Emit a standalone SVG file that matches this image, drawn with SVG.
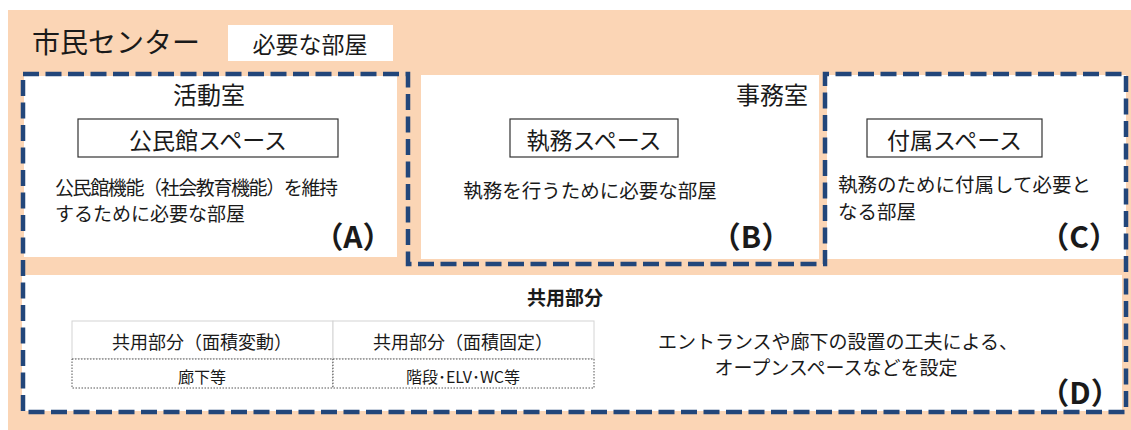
<svg xmlns="http://www.w3.org/2000/svg" width="1131" height="430" viewBox="0 0 1131 430">
<style>
text{font-family:"Noto Sans CJK JP","Noto Sans",sans-serif;fill:#1a1a1a}
.room{fill:#ffffff}
.lbl{stroke:#333;stroke-width:1.2;fill:#ffffff}
.t24{font-size:24px}
.t23{font-size:23px}
.t19{font-size:19px}
.t18{font-size:18px}
.t16{font-size:16px}
.mark{font-size:30px;font-weight:bold;text-anchor:middle}
.mid{text-anchor:middle}
.end{text-anchor:end}
.hdr{fill:#ffffff;stroke:#d4d4d4;stroke-width:1}
.dot{fill:#ffffff;stroke:#555;stroke-width:1;stroke-dasharray:1.5 1.5}
.outline{fill:none;stroke:#22467a;stroke-width:4.5;stroke-dasharray:16 6.5;stroke-linejoin:miter}
</style>
<rect x="8" y="10" width="1123" height="420" fill="#fbd5b5"/>
<g id="title">
<text x="32" y="53" style="font-size:28px">市民センター</text>
<rect x="228" y="25" width="165" height="36" fill="#ffffff"/>
<text class="mid t23" x="310" y="52.5">必要な部屋</text>
</g>
<g id="roomA">
<rect class="room" x="24" y="76" width="373" height="181"/>
<text class="mid t24" x="209" y="104">活動室</text>
<rect class="lbl" x="78" y="119" width="260" height="38"/>
<text class="mid t23" x="208" y="148.5">公民館スペース</text>
<text class="t19" x="55" y="195" style="letter-spacing:-1.4px">公民館機能（社会教育機能）を維持</text>
<text class="t19" x="55" y="221">するために必要な部屋</text>
<text class="mark" x="353" y="248">（A）</text>
</g>
<g id="roomB">
<rect class="room" x="421" y="75" width="398" height="184"/>
<text class="end t24" x="808" y="104">事務室</text>
<rect class="lbl" x="510" y="119" width="168" height="38"/>
<text class="mid t23" x="594" y="148.5">執務スペース</text>
<text class="mid" x="590" y="197.5" style="font-size:19.5px">執務を行うために必要な部屋</text>
<text class="mark" x="751" y="248">（B）</text>
</g>
<g id="roomC">
<rect class="room" x="827" y="75" width="299" height="184"/>
<rect class="lbl" x="867" y="119" width="175" height="38"/>
<text class="mid t23" x="954.5" y="148.5">付属スペース</text>
<text x="838" y="191.5" style="font-size:19.5px">執務のために付属して必要と</text>
<text x="838" y="218.5" style="font-size:19.5px">なる部屋</text>
<text class="mark" x="1079" y="248">（C）</text>
</g>
<g id="roomD">
<rect class="room" x="22" y="275" width="1100" height="136"/>
<text class="mid" x="565" y="305" style="font-size:19px;font-weight:bold">共用部分</text>
<g id="table">
<rect class="hdr" x="72" y="321" width="261" height="38"/>
<rect class="hdr" x="333" y="321" width="261" height="38"/>
<rect class="dot" x="72" y="359" width="261" height="29"/>
<rect class="dot" x="333" y="359" width="261" height="29"/>
<text class="mid t18" x="202" y="349">共用部分（面積変動）</text>
<text class="mid t18" x="463" y="349">共用部分（面積固定）</text>
<text class="mid t16" x="202" y="383">廊下等</text>
<text class="mid t16" x="463" y="383">階段･ELV･WC等</text>
</g>
<text class="mid" x="838" y="349" style="font-size:19px">エントランスや廊下の設置の工夫による、</text>
<text class="mid" x="836" y="375" style="font-size:19px">オープンスペースなどを設定</text>
<text class="mark" x="1080" y="404">（D）</text>
</g>
<g id="outlines">
<path class="outline" d="M23,74 H408 V264 H825 V74 H1126 V412 H23 Z"/>
</g>
</svg>
